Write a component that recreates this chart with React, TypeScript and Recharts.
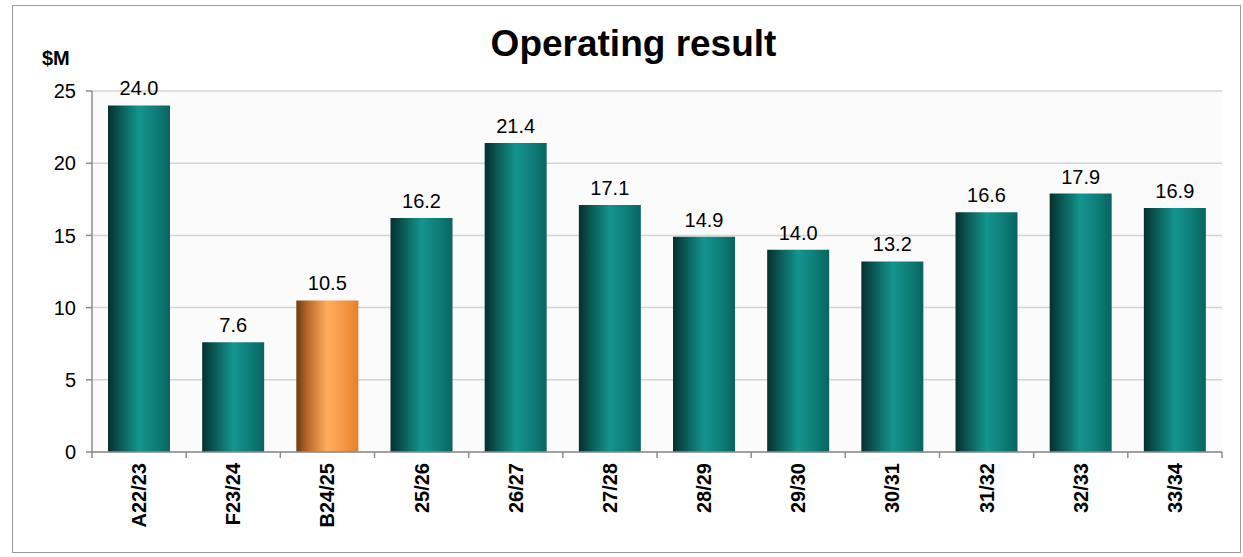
import { BarChart, Bar, XAxis, YAxis, CartesianGrid, Cell, LabelList } from "recharts";

const periods = ["A22/23", "F23/24", "B24/25", "25/26", "26/27", "27/28", "28/29", "29/30", "30/31", "31/32", "32/33", "33/34"];
const results = [24.0, 7.6, 10.5, 16.2, 21.4, 17.1, 14.9, 14.0, 13.2, 16.6, 17.9, 16.9];
const budgetPeriod = "B24/25";
const yTicks = [0, 5, 10, 15, 20, 25];

const data = periods.map((period, i) => ({ period, value: results[i] }));

const W = 1243;
const H = 557;
const M = { top: 91, right: 21, left: 0, bottom: 0 };
const Y_W = 92;
const X_H = 105;
const step = (W - M.left - M.right - Y_W) / periods.length;

const font = "Arial, 'Liberation Sans', sans-serif";

function PeriodTick(props: any) {
  const { x, y, payload, index } = props;
  const left = x - step / 2;
  return (
    <g>
      <line x1={left} y1={y - 8} x2={left} y2={y - 2} stroke="#8c8c8c" strokeWidth={1.5} />
      {index === periods.length - 1 && (
        <line x1={left + step} y1={y - 8} x2={left + step} y2={y - 2} stroke="#8c8c8c" strokeWidth={1.5} />
      )}
      <text
        x={0}
        y={0}
        transform={`translate(${x + 7}, ${y + 3}) rotate(-90)`}
        textAnchor="end"
        fontFamily={font}
        fontSize={20}
        fontWeight="bold"
        fill="#000"
      >
        {payload.value}
      </text>
    </g>
  );
}

export default function App() {
  return (
    <div style={{ position: "absolute", left: 0, top: 0, width: W, height: H, background: "#fff" }}>
      <div
        style={{
          position: "absolute",
          left: 12,
          top: 5,
          width: 1229,
          height: 548,
          border: "1.5px solid #9a9a9a",
          boxSizing: "border-box",
        }}
      />
      <div
        style={{
          position: "absolute",
          left: 0,
          width: W,
          top: 23,
          textAlign: "center",
          paddingLeft: 12,
          fontFamily: font,
          fontWeight: "bold",
          fontSize: 37,
          color: "#000",
          lineHeight: "42px",
        }}
      >
        Operating result
      </div>
      <div
        style={{
          position: "absolute",
          left: 42,
          top: 47,
          fontFamily: font,
          fontWeight: "bold",
          fontSize: 20,
          color: "#000",
          lineHeight: "22px",
        }}
      >
        $M
      </div>
      <div style={{ position: "absolute", left: 0, top: 0 }}>
        <BarChart width={W} height={H} data={data} margin={M} barCategoryGap="17%">
          <defs>
            <linearGradient id="tealBar" x1="0" y1="0" x2="1" y2="0">
              <stop offset="0%" stopColor="#062f2f" />
              <stop offset="18%" stopColor="#0a5552" />
              <stop offset="50%" stopColor="#14958f" />
              <stop offset="80%" stopColor="#0e7a75" />
              <stop offset="100%" stopColor="#0a6461" />
            </linearGradient>
            <linearGradient id="orangeBar" x1="0" y1="0" x2="1" y2="0">
              <stop offset="0%" stopColor="#6e3a12" />
              <stop offset="18%" stopColor="#b8692a" />
              <stop offset="50%" stopColor="#ffad5c" />
              <stop offset="80%" stopColor="#f59440" />
              <stop offset="100%" stopColor="#e0822f" />
            </linearGradient>
          </defs>
          <CartesianGrid vertical={false} stroke="#d4d4d4" strokeWidth={1.5} fill="#fbfbfb" />
          <XAxis
            dataKey="period"
            height={X_H}
            tickLine={false}
            axisLine={{ stroke: "#8c8c8c", strokeWidth: 1.5 }}
            interval={0}
            tick={<PeriodTick />}
          />
          <YAxis
            width={Y_W}
            domain={[0, 25]}
            ticks={yTicks}
            tickSize={6}
            tickMargin={10}
            tickLine={{ stroke: "#8c8c8c", strokeWidth: 1.5 }}
            axisLine={{ stroke: "#8c8c8c", strokeWidth: 1.5 }}
            tick={{ fontFamily: font, fontSize: 20, fill: "#000" }}
          />
          <Bar dataKey="value" isAnimationActive={false}>
            {data.map((d) => (
              <Cell key={d.period} fill={d.period === budgetPeriod ? "url(#orangeBar)" : "url(#tealBar)"} />
            ))}
            <LabelList
              dataKey="value"
              position="top"
              offset={10}
              formatter={(v: any) => Number(v).toFixed(1)}
              style={{ fontFamily: font, fontSize: 20, fill: "#000" }}
            />
          </Bar>
        </BarChart>
      </div>
    </div>
  );
}
